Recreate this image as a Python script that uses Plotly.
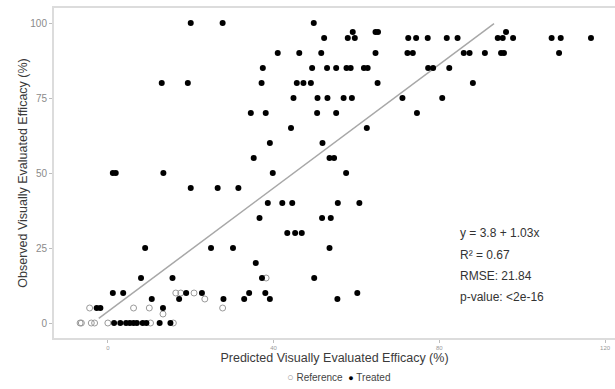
import plotly.graph_objects as go

# Treated plots: observed efficacy (%) by row, predicted efficacy (%) per point
treated_obs = (
    [100] * 3 + [97] * 4 + [95] * 14 + [90] * 12 + [85] * 11 + [80] * 8 + [75] * 7 +
    [70] * 5 + [65] * 2 + [60] * 2 + [55] * 3 + [50] * 5 + [45] * 3 + [40] * 5 +
    [35] * 3 + [30] * 3 + [25] * 4 + [20] * 1 + [15] * 4 + [10] * 7 + [8] * 6 +
    [5] * 3 + [0] * 10
)
treated_pred = [
    20.0, 27.7, 49.7,
    59.1, 64.6, 65.2, 96.1,
    52.2, 57.9, 59.6, 72.5, 74.4, 77.2, 81.8, 84.4, 94.1, 95.3, 97.8, 107.1, 109.3, 116.6,
    41.0, 46.2, 51.5, 64.6, 72.3, 73.6, 85.9, 87.3, 91.0, 94.9, 95.6, 108.9,
    37.4, 49.3, 52.9, 55.1, 57.6, 58.6, 61.8, 62.7, 77.3, 78.5, 82.4,
    13.0, 19.3, 37.1, 45.6, 47.2, 49.0, 65.1, 88.1,
    44.8, 50.6, 53.0, 56.9, 58.9, 71.1, 80.7,
    34.5, 38.1, 50.5, 55.1, 74.6,
    44.2, 62.5,
    39.1, 51.8,
    35.2, 53.5, 54.6,
    1.2, 1.9, 13.4, 39.8, 57.5,
    20.0, 26.5, 31.5,
    38.6, 42.1, 44.5, 55.5, 60.7,
    36.6, 51.7, 53.8,
    43.3, 45.2, 46.8,
    9.0, 24.9, 30.2, 53.5,
    35.7,
    8.0, 15.6, 37.2, 49.8,
    1.2, 3.7, 18.9, 22.7, 34.1, 38.0, 60.2,
    10.6, 17.2, 27.9, 32.9, 39.1, 55.4,
    -2.7, -1.8, 13.3,
    1.5, 3.0, 4.4, 5.3, 6.2, 7.0, 8.4, 9.3, 12.5, 15.1,
]

# Reference (untreated) plots
reference_obs = [15, 10, 10, 10, 8, 5, 5, 5, 5, 3, 0, 0, 0, 0, 0, 0, 0]
reference_pred = [38.2, 16.4, 17.6, 20.8, 23.4, -4.4, 6.2, 10.0, 27.7, 13.3,
                  -6.7, -6.4, -4.0, -3.2, 0.0, 10.3, 15.8]

# Linear fit of observed on predicted
fit_intercept = 3.8
fit_slope = 1.03
fit_x = [-2.2, 93.2]
fit_y = [fit_intercept + fit_slope * v for v in fit_x]

stats_lines = ["y = 3.8 + 1.03x", "R² = 0.67", "RMSE: 21.84", "p-value: <2e-16"]
stats_y = [29.9, 22.8, 15.8, 8.8]

x_ticks = [0, 40, 80, 120]
y_ticks = [0, 25, 50, 75, 100]

FONT = "Liberation Sans, Arial, Helvetica, sans-serif"
REF_COLOR = "#9a9a9a"
TRT_COLOR = "#000000"

fig = go.Figure()

fig.add_trace(go.Scatter(
    x=fit_x, y=fit_y, mode="lines",
    line=dict(color="#a8a8a8", width=1.5),
    showlegend=False, hoverinfo="skip",
))

fig.add_trace(go.Scatter(
    x=reference_pred, y=reference_obs, mode="markers", name="Reference",
    marker=dict(symbol="circle-open", size=6, color=REF_COLOR,
                line=dict(width=1, color=REF_COLOR)),
    showlegend=False,
))

fig.add_trace(go.Scatter(
    x=treated_pred, y=treated_obs, mode="markers", name="Treated",
    marker=dict(symbol="circle", size=6, color=TRT_COLOR),
    showlegend=False,
))

for txt, yv in zip(stats_lines, stats_y):
    fig.add_annotation(
        x=84.5, y=yv, xref="x", yref="y", text=txt, showarrow=False,
        xanchor="left", yanchor="middle",
        font=dict(family=FONT, size=12, color="#333333"),
    )

# compact key below the axis title
fig.add_annotation(
    x=0.507, y=-0.118, xref="paper", yref="paper", showarrow=False,
    xanchor="center", yanchor="middle",
    text=(f'<span style="color:{REF_COLOR};font-size:11px">○</span>&nbsp;Reference&nbsp; '
          f'<span style="color:{TRT_COLOR};font-size:9px">●</span>&nbsp;Treated'),
    font=dict(family=FONT, size=10, color="#444444"),
)

fig.update_xaxes(
    range=[-13.0, 122.4], tickvals=x_ticks, ticktext=[str(t) for t in x_ticks],
    showgrid=False, zeroline=False,
    showline=True, mirror=True, linecolor="#dcdcdc", linewidth=2,
    ticks="outside", ticklen=3, tickcolor="#bdbdbd", tickwidth=1,
    tickfont=dict(family=FONT, size=6, color="#999999"),
    title=dict(text="Predicted Visually Evaluated Efficacy (%)",
               font=dict(family=FONT, size=12.5, color="#3a3a3a"), standoff=3),
)
fig.update_yaxes(
    range=[-5, 105], tickvals=y_ticks, ticktext=[str(t) for t in y_ticks],
    showgrid=False, zeroline=False,
    showline=True, mirror=True, linecolor="#dcdcdc", linewidth=2,
    ticks="outside", ticklen=3, tickcolor="#bdbdbd", tickwidth=1,
    tickfont=dict(family=FONT, size=10, color="#8a8a8a"),
    title=dict(text="Observed Visually Evaluated Efficacy (%)",
               font=dict(family=FONT, size=12.5, color="#3a3a3a"), standoff=0),
)

fig.update_layout(
    width=615, height=389,
    margin=dict(l=54, r=0, t=8, b=51, autoexpand=False),
    plot_bgcolor="white", paper_bgcolor="white",
    font=dict(family=FONT),
    showlegend=False,
)

fig.write_html("out.html")
